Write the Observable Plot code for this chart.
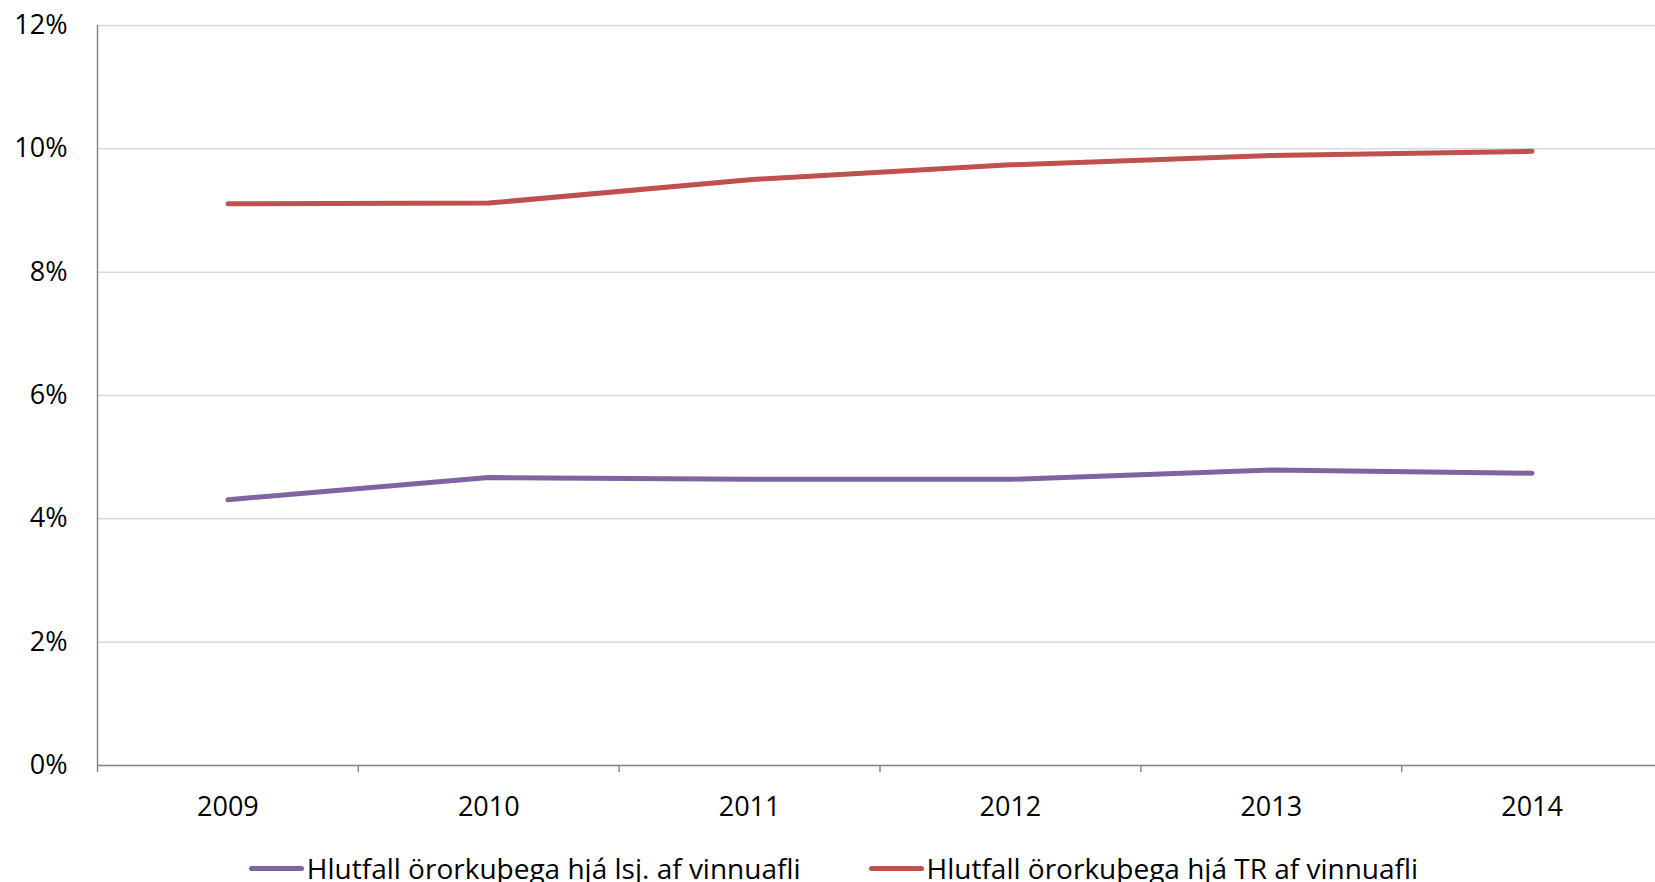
<!DOCTYPE html>
<html>
<head>
<meta charset="utf-8">
<script src="https://cdn.jsdelivr.net/npm/d3@7"></script>
<script src="https://cdn.jsdelivr.net/npm/@observablehq/plot@0.6"></script>
<style>
  html, body { margin: 0; padding: 0; background: #fff; overflow: hidden; width: 1655px; height: 882px; }
  #chart { position: absolute; left: 0; top: 0; }
  #legend { position: absolute; left: 6px; top: 853px; width: 1655px; display: flex; justify-content: center; gap: 68px;
    font-family: "Open Sans", sans-serif; font-size: 28px; color: #000; line-height: 30px; white-space: nowrap; }
  .item { display: flex; align-items: center; }
  .sw { display: inline-block; width: 55px; height: 5px; border-radius: 3px; margin-right: 3px; }
</style>
</head>
<body>
<div id="chart"></div>
<div id="legend"></div>
<script>
const years = [2009, 2010, 2011, 2012, 2013, 2014];
const lsj = [0.0431, 0.0467, 0.0464, 0.0464, 0.0479, 0.0474];
const tr = [0.0911, 0.0912, 0.0950, 0.0974, 0.0989, 0.0996];
const seriesNames = ["Hlutfall örorkuþega hjá lsj. af vinnuafli", "Hlutfall örorkuþega hjá TR af vinnuafli"];
const seriesColors = ["#8064A2", "#C0504D"];
const yTicks = [0, 0.02, 0.04, 0.06, 0.08, 0.10, 0.12];
const boundaries = [2008.5, 2009.5, 2010.5, 2011.5, 2012.5, 2013.5];

const data = [];
years.forEach((yr, i) => {
  data.push({year: yr, value: lsj[i], series: seriesNames[0]});
  data.push({year: yr, value: tr[i], series: seriesNames[1]});
});

const font = '"Open Sans", sans-serif';
const chart = Plot.plot({
  width: 1655,
  height: 800,
  marginLeft: 97,
  marginRight: 0,
  marginTop: 25,
  marginBottom: 35,
  style: {fontFamily: font, fontSize: "27px", color: "#000", background: "#fff", overflow: "visible"},
  x: {type: "linear", domain: [2008.5, 2014.5], range: [97, 1662], label: null},
  y: {domain: [0, 0.12], label: null},
  color: {domain: seriesNames, range: seriesColors},
  marks: [
    Plot.gridY(yTicks, {stroke: "#D9D9D9", strokeOpacity: 1, strokeWidth: 1.5}),
    Plot.axisY({ticks: yTicks, tickFormat: d3.format(".0%"), tickSize: 0, tickPadding: 30, fontSize: 27, fill: "#000", label: null}),
    Plot.axisX({ticks: boundaries, tickSize: 7, tickFormat: () => "", stroke: "#868686", strokeWidth: 1.5, label: null}),
    Plot.axisX({ticks: years, tickSize: 0, tickPadding: 31, tickFormat: d => String(d), fontSize: 27, fill: "#000", label: null}),
    Plot.ruleX([2008.5], {stroke: "#868686", strokeWidth: 1.5}),
    Plot.ruleY([0], {stroke: "#868686", strokeWidth: 1.5}),
    Plot.line(data, {x: "year", y: "value", z: "series", stroke: "series", strokeWidth: 5, strokeLinecap: "round", strokeLinejoin: "round"})
  ]
});
document.getElementById("chart").appendChild(chart);

const legend = document.getElementById("legend");
seriesNames.forEach((name, i) => {
  const item = document.createElement("div");
  item.className = "item";
  const sw = document.createElement("span");
  sw.className = "sw";
  sw.style.background = seriesColors[i];
  const label = document.createElement("span");
  label.textContent = name;
  item.appendChild(sw);
  item.appendChild(label);
  legend.appendChild(item);
});
</script>
</body>
</html>
